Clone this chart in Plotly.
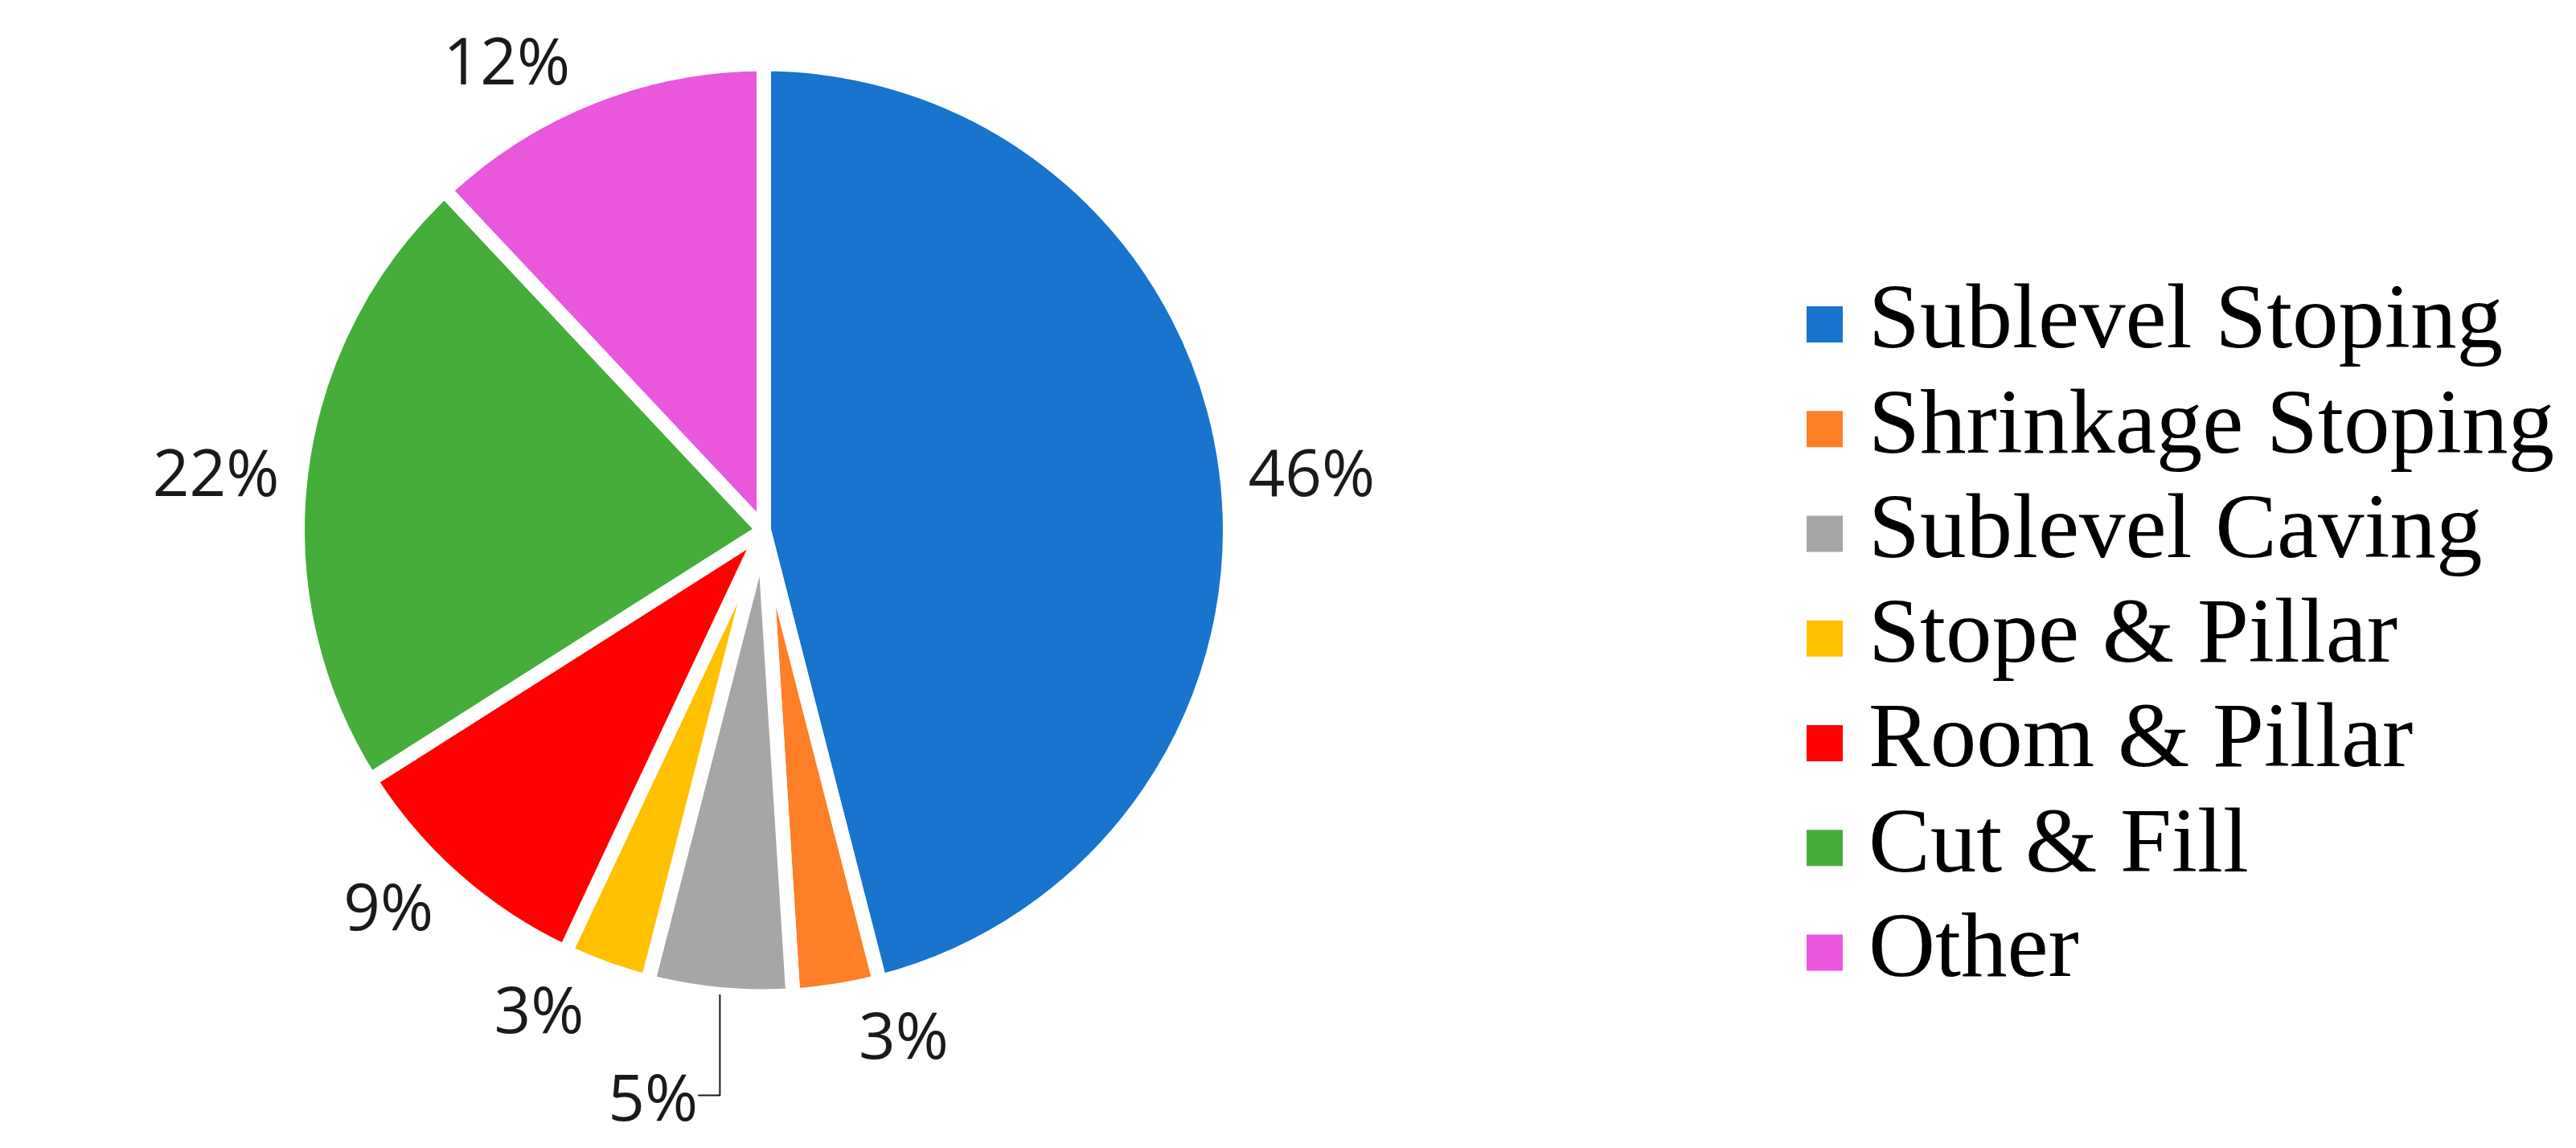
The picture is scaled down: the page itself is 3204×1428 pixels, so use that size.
import plotly.graph_objects as go

# mining methods share (%)
methods = ["Sublevel Stoping", "Shrinkage Stoping", "Sublevel Caving",
           "Stope & Pillar", "Room & Pillar", "Cut & Fill", "Other"]
shares = [46, 3, 5, 3, 9, 22, 12]
colors = ["#1874CC", "#FD7F27", "#A6A6A6", "#FFC000", "#FF0000", "#45AE3B", "#E958DC"]

W, H = 3204, 1428

fig = go.Figure()

fig.add_trace(go.Pie(labels=methods, values=shares, sort=False, direction="clockwise",
                     rotation=0, textinfo="percent", textposition="outside",
                     automargin=False,
                     outsidetextfont=dict(family="Open Sans", size=80, color="#1a1a1a"),
                     marker=dict(colors=colors, line=dict(color="white", width=18)),
                     domain=dict(x=[0.1130, 0.4750], y=[0.1376, 0.9499]),
                     showlegend=False, hoverinfo="label+percent"))

# legend drawn as a small scatter so the swatches can be big squares
rows = list(range(len(methods)))
fig.add_trace(go.Scatter(x=[0] * len(methods), y=rows, mode="markers",
                         marker=dict(symbol="square", size=45, color=colors),
                         showlegend=False, hoverinfo="skip", cliponaxis=False))
fig.add_trace(go.Scatter(x=[54.5] * len(methods), y=rows, mode="text", text=methods,
                         textposition="middle right",
                         textfont=dict(family="Liberation Serif", size=115, color="black"),
                         showlegend=False, hoverinfo="skip", cliponaxis=False))

row_gap = 130.25
first_row = 395.5
fig.update_xaxes(visible=False, domain=[2261.5 / W, 1], range=[0, W - 2261.5], fixedrange=True)
fig.update_yaxes(visible=False, domain=[0, 1],
                 range=[(H - first_row) / row_gap, -first_row / row_gap], fixedrange=True)

fig.update_layout(width=W, height=H, autosize=False,
                  margin=dict(l=0, r=0, t=0, b=0, autoexpand=False),
                  paper_bgcolor="white", plot_bgcolor="white",
                  font=dict(family="Open Sans", size=40))

fig.write_html("out.html")
